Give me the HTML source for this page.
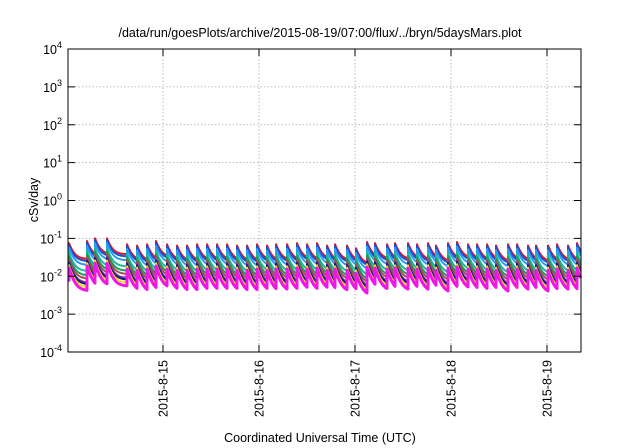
<!DOCTYPE html>
<html><head><meta charset="utf-8">
<style>
body{margin:0;background:#fff;}
svg{display:block;font-family:"Liberation Sans",sans-serif;}
</style></head>
<body>
<svg id="chart" width="640" height="448" viewBox="0 0 640 448">
<text x="320" y="37" text-anchor="middle" font-size="12.5">/data/run/goesPlots/archive/2015-08-19/07:00/flux/../bryn/5daysMars.plot</text>
<text x="320" y="442" text-anchor="middle" font-size="12.5">Coordinated Universal Time (UTC)</text>
<text transform="translate(38,200) rotate(-90)" text-anchor="middle" font-size="12.5">cSv/day</text>
<g id="grid"></g>
<g id="series"></g>
<rect x="68" y="49" width="513" height="303" fill="none" stroke="#000" stroke-width="1"/>
<g id="axes"></g>
</svg>
<script>
// hours since 2015-08-14 00:00 UTC at which dose spikes occur
const eventHours = [0.5,5,7,10,15,17.5,20,22.25,25,27.5,30,32.5,35,37.5,40,42.5,45,47.5,50,52.25,55,57.5,60,62.5,65,67,70,72.25,75,77,80,82,85.25,87.5,90.25,92.25,95.25,97.5,100.25,102.5,105,107.25,110.25,112.5,115.25,117.25,120.25,122.5,125.25,127.5];
// peak value of the top (red) series at each spike, cSv/day
const eventPeaks = [0.075,0.085,0.1,0.1,0.07,0.065,0.07,0.085,0.07,0.065,0.065,0.07,0.07,0.07,0.07,0.065,0.065,0.07,0.065,0.07,0.07,0.075,0.07,0.075,0.065,0.07,0.065,0.055,0.08,0.075,0.07,0.075,0.075,0.07,0.075,0.065,0.075,0.08,0.07,0.07,0.07,0.065,0.07,0.07,0.065,0.065,0.065,0.07,0.065,0.075];
const seriesNames = ["red","blue","light-blue","teal","green","brown","purple","dark-blue","yellow","magenta"];
const seriesColors = ["#e8141c","#1a4fd8","#2a9cf0","#19b8a0","#1d9d5a","#a0524f","#7a3a9a","#1a1a80","#ece017","#f016e8"];
const seriesScale = [1,0.9,0.75,0.55,0.45,0.38,0.32,0.3,0.26,0.22];
const seriesFloor = [0.38,0.37,0.35,0.33,0.31,0.3,0.28,0.27,0.26,0.25];
const xTicks = [24,48,72,96,120];
const xTickLabels = ["2015-8-15","2015-8-16","2015-8-17","2015-8-18","2015-8-19"];
const yTickExps = [-4,-3,-2,-1,0,1,2,3,4];

const NS="http://www.w3.org/2000/svg";
const X0=68,X1=581,Y0=352,Y1=49;
const hMin=0.25,hMax=128.5;
function xs(h){return X0+(h-hMin)/(hMax-hMin)*(X1-X0);}
function ys(v){return Y0-(Math.log10(v)+4)/8*(Y0-Y1);}
function mk(tag,attrs,parent){const e=document.createElementNS(NS,tag);for(const k in attrs)e.setAttribute(k,attrs[k]);parent.appendChild(e);return e;}
const grid=document.getElementById('grid'),axes=document.getElementById('axes'),ser=document.getElementById('series');

yTickExps.forEach(p=>{
  const y=ys(Math.pow(10,p));
  if(p>-4&&p<4){const g=mk('line',{x1:X0,x2:X1,y1:y,y2:y,stroke:'#aaa','stroke-width':0.8,'stroke-dasharray':'1.5,2'},grid);
  
  }
  const t1=mk('line',{x1:X0,x2:X0+7,y1:y,y2:y,stroke:'#000'},axes);
  
  
  const t2=mk('line',{x1:X1-7,x2:X1,y1:y,y2:y,stroke:'#000'},axes);
  
  
  const lab=mk('text',{x:62,y:y+5,'text-anchor':'end','font-size':12.5},axes);
  
  
  lab.textContent='10';
  const sup=mk('tspan',{dy:-6,'font-size':9},lab);sup.textContent=String(p);
});
xTicks.forEach((h,i)=>{
  const x=xs(h);
  const g=mk('line',{x1:x,x2:x,y1:Y1,y2:Y0,stroke:'#aaa','stroke-width':0.8,'stroke-dasharray':'1.5,2'},grid);
  
  
  const t1=mk('line',{x1:x,x2:x,y1:Y0-7,y2:Y0,stroke:'#000'},axes);
  
  
  const t2=mk('line',{x1:x,x2:x,y1:Y1,y2:Y1+7,stroke:'#000'},axes);
  
  
  const lab=mk('text',{transform:`translate(${x+4.5},360) rotate(-90)`,'text-anchor':'end','font-size':12.5},axes);
  
  
  lab.textContent=xTickLabels[i];
});

const tau=1.0;
function valueAt(h,si){
  let idx=-1;for(let i=0;i<eventHours.length;i++){if(eventHours[i]<=h)idx=i;}
  const f=seriesFloor[si];
  if(idx<0) return eventPeaks[0]*seriesScale[si]*(f+(1-f)*0.3);
  const dt=h-eventHours[idx];
  return eventPeaks[idx]*seriesScale[si]*(f+(1-f)*Math.exp(-dt/tau));
}
seriesNames.forEach((name,si)=>{
  const pts=[];
  const times=[];
  for(let h=hMin;h<=hMax;h+=0.2)times.push(h);
  eventHours.forEach(e=>{times.push(e-0.01);times.push(e);});
  times.sort((a,b)=>a-b);
  times.forEach(h=>{if(h<hMin||h>hMax)return;
    pts.push(xs(h).toFixed(1)+','+ys(valueAt(h,si)).toFixed(1));});
  const pl=mk('polyline',{points:pts.join(' '),fill:'none',stroke:seriesColors[si],'stroke-width':si===9?3:2,'stroke-linejoin':'round'},ser);
  
  
});
</script>
</body></html>
